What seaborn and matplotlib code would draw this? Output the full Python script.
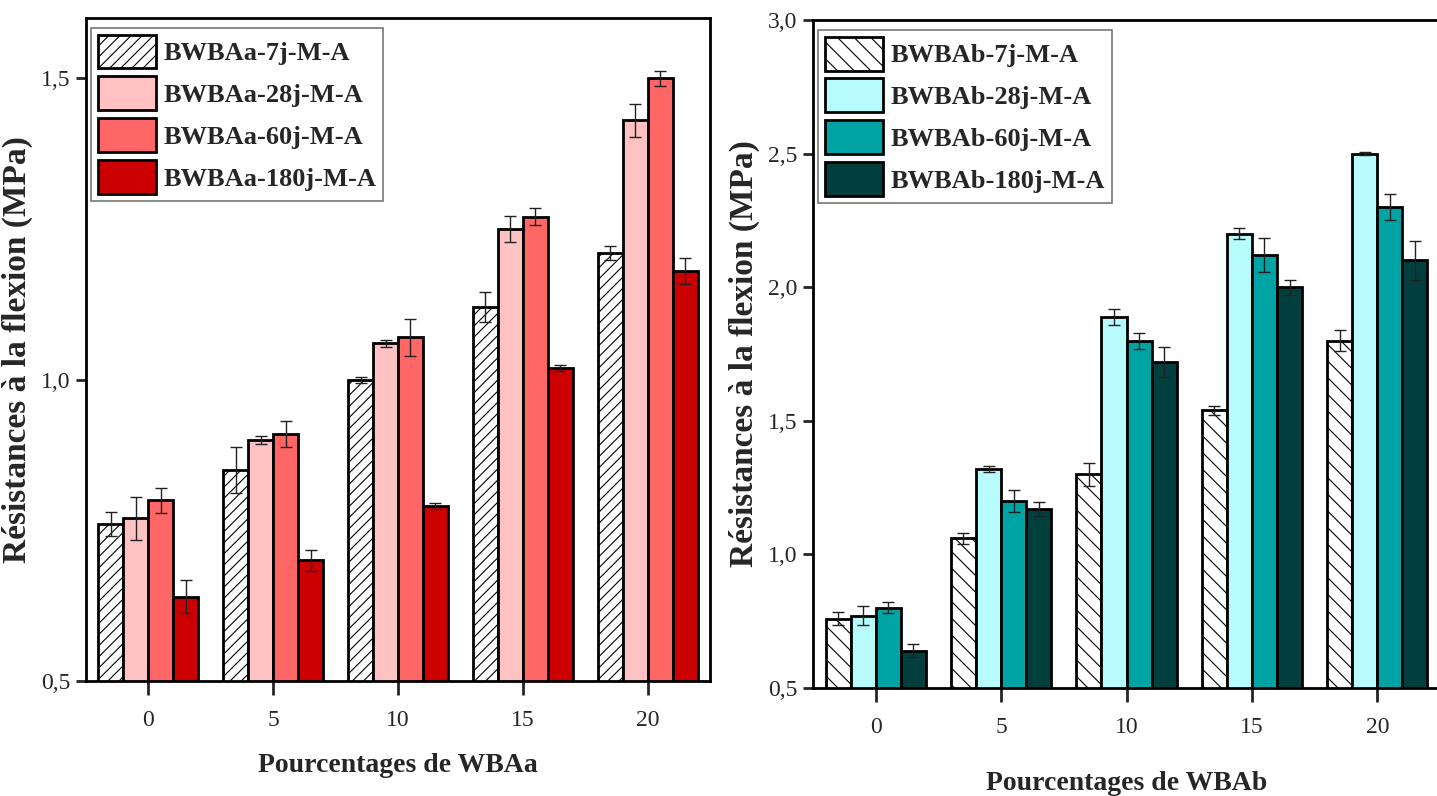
import numpy as np
import pandas as pd
import matplotlib
matplotlib.use("Agg")
import matplotlib.pyplot as plt
import seaborn as sns
from matplotlib.ticker import FuncFormatter

# Données (résistance à la flexion, MPa)
pourcentages = ['0', '5', '10', '15', '20']

series_a = ['BWBAa-7j-M-A', 'BWBAa-28j-M-A', 'BWBAa-60j-M-A', 'BWBAa-180j-M-A']
a_7j = [0.76, 0.85, 1.00, 1.12, 1.21]
a_28j = [0.77, 0.90, 1.06, 1.25, 1.43]
a_60j = [0.80, 0.91, 1.07, 1.27, 1.50]
a_180j = [0.64, 0.70, 0.79, 1.02, 1.18]
a_7j_err = [0.020, 0.038, 0.005, 0.025, 0.012]
a_28j_err = [0.036, 0.006, 0.006, 0.021, 0.028]
a_60j_err = [0.021, 0.021, 0.030, 0.014, 0.012]
a_180j_err = [0.027, 0.018, 0.005, 0.005, 0.022]

series_b = ['BWBAb-7j-M-A', 'BWBAb-28j-M-A', 'BWBAb-60j-M-A', 'BWBAb-180j-M-A']
b_7j = [0.76, 1.06, 1.30, 1.54, 1.80]
b_28j = [0.77, 1.32, 1.89, 2.20, 2.50]
b_60j = [0.80, 1.20, 1.80, 2.12, 2.30]
b_180j = [0.64, 1.17, 1.72, 2.00, 2.10]
b_7j_err = [0.023, 0.020, 0.043, 0.017, 0.040]
b_28j_err = [0.036, 0.010, 0.030, 0.020, 0.005]
b_60j_err = [0.020, 0.040, 0.030, 0.064, 0.050]
b_180j_err = [0.025, 0.026, 0.055, 0.028, 0.073]

couleurs_a = ['#FFFFFF', '#FFC2C2', '#FF6666', '#CC0000']
couleurs_b = ['#FFFFFF', '#B8FBFC', '#00A3A3', '#003F3D']

sns.set_style("ticks")
plt.rcParams['font.family'] = ['Liberation Serif', 'DejaVu Serif']
plt.rcParams['hatch.linewidth'] = 0.8


def tableau(series, valeurs):
    lignes = []
    for s, vals in zip(series, valeurs):
        for p, v in zip(pourcentages, vals):
            lignes.append({'pourcentage': p, 'serie': s, 'valeur': v})
    return pd.DataFrame(lignes)


def panneau(ax, series, valeurs, erreurs, couleurs, hachure, ylim, yticks, xlabel, xpad):
    df = tableau(series, valeurs)
    sns.barplot(data=df, x='pourcentage', y='valeur', hue='serie', order=pourcentages,
                hue_order=series, palette=couleurs, saturation=1, errorbar=None,
                edgecolor='black', linewidth=2.0, width=0.8, legend=False, ax=ax)
    for cont, err in zip(ax.containers, erreurs):
        xs = [b.get_x() + b.get_width() / 2 for b in cont]
        ys = [b.get_height() for b in cont]
        ax.errorbar(xs, ys, yerr=err, fmt='none', ecolor='#222222',
                    elinewidth=1.0, capsize=4.3, capthick=1.0, zorder=5)
    for b in ax.containers[0]:
        b.set_hatch(hachure)
        if hasattr(b, 'set_hatchcolor'):
            b.set_hatchcolor('#555555')
    ax.set_ylim(*ylim)
    ax.set_xlim(-0.5, 4.5)
    ax.set_yticks(yticks)
    ax.yaxis.set_major_formatter(FuncFormatter(lambda v, p: f"{v:.1f}".replace('.', ',')))
    ax.set_xlabel(xlabel, fontsize=20, fontweight='bold', labelpad=xpad)
    ax.set_ylabel('Résistances à la flexion (MPa)', fontsize=24, fontweight='bold', labelpad=6)
    ax.tick_params(axis='y', length=7, width=2, labelsize=17, pad=4, direction='out')
    ax.tick_params(axis='x', length=10, width=2, labelsize=17, pad=11, direction='out')
    for sp in ax.spines.values():
        sp.set_linewidth(2)
        sp.set_color('black')
    leg = ax.legend(handles=ax.containers, labels=series, loc='upper left',
                    bbox_to_anchor=(0.008, 0.985), borderaxespad=0,
                    prop={'size': 19, 'weight': 'bold'}, handlelength=2.2,
                    handleheight=1.6, labelspacing=0.3, handletextpad=0.3,
                    borderpad=0.25, fancybox=False, framealpha=1)
    leg.get_frame().set_edgecolor('#777777')
    leg.get_frame().set_linewidth(1.2)


fig = plt.figure(figsize=(14.37, 7.96), dpi=100)
ax1 = fig.add_axes([86 / 1437, 1 - 681 / 796, (710 - 86) / 1437, (681 - 18) / 796])
ax2 = fig.add_axes([813 / 1437, 1 - 688 / 796, (1440 - 813) / 1437, (688 - 20) / 796])

panneau(ax1, series_a, [a_7j, a_28j, a_60j, a_180j],
        [a_7j_err, a_28j_err, a_60j_err, a_180j_err], couleurs_a, '///',
        (0.5, 1.6), [0.5, 1.0, 1.5], 'Pourcentages de WBAa', 16)
panneau(ax2, series_b, [b_7j, b_28j, b_60j, b_180j],
        [b_7j_err, b_28j_err, b_60j_err, b_180j_err], couleurs_b, '\\\\',
        (0.5, 3.0), [0.5, 1.0, 1.5, 2.0, 2.5, 3.0], 'Pourcentages de WBAb', 24)

fig.savefig('out.png', dpi=100, facecolor='white')
